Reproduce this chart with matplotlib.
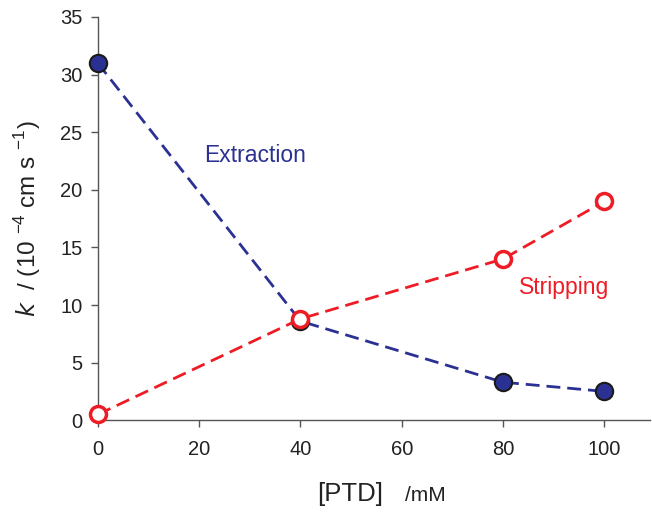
import matplotlib
matplotlib.use("Agg")
import matplotlib.pyplot as plt

plt.rcParams["font.family"] = ["Liberation Sans", "DejaVu Sans"]

# data
ptd_mM = [0, 40, 80, 100]
k_extraction = [31.0, 8.6, 3.3, 2.5]
k_stripping = [0.5, 8.8, 14.0, 19.0]

blue = "#2B3192"
red = "#EE1C25"
grey = "#555555"
text_col = "#222222"

fig = plt.figure(figsize=(6.52, 5.15), dpi=100)
ax = fig.add_axes([0.150, 0.184, 0.847, 0.783])

ax.plot(ptd_mM, k_extraction, linestyle=(0, (5, 2.5)), color=blue, lw=2,
        marker="o", ms=12.5, mfc=blue, mec="#1a1a1a", mew=1.5, zorder=3,
        clip_on=False)
ax.plot(ptd_mM, k_stripping, linestyle=(0, (5, 2.5)), color=red, lw=2,
        marker="o", ms=11.5, mfc="white", mec=red, mew=2.5, zorder=4,
        clip_on=False)

ax.text(31, 23, "Extraction", color=blue, fontsize=16.5, ha="center", va="center")
ax.text(92, 11.5, "Stripping", color=red, fontsize=16.5, ha="center", va="center")

ax.set_xlim(0, 109)
ax.set_ylim(0, 35)
ax.set_xticks(range(0, 101, 20))
ax.set_yticks(range(0, 36, 5))

for side in ["top", "right"]:
    ax.spines[side].set_visible(False)
for side in ["left", "bottom"]:
    ax.spines[side].set_color(grey)
    ax.spines[side].set_linewidth(1.0)
ax.tick_params(direction="out", length=5, width=1, color=grey,
               labelsize=14.5, labelcolor=text_col, pad=6)
ax.tick_params(axis="x", pad=9)

# x label: "[PTD]" large, "/mM" smaller
fig.text(0.587, 0.028, "[PTD]", fontsize=18.5, color=text_col, ha="right", va="baseline")
fig.text(0.621, 0.028, "/mM", fontsize=15, color=text_col, ha="left", va="baseline")

ax.set_ylabel(r"$k$  / (10 $^{\mathregular{-4}}$ cm s $^{\mathregular{-1}}$)",
              fontsize=17.5, color=text_col, labelpad=12)

fig.savefig("out.png", dpi=100)
